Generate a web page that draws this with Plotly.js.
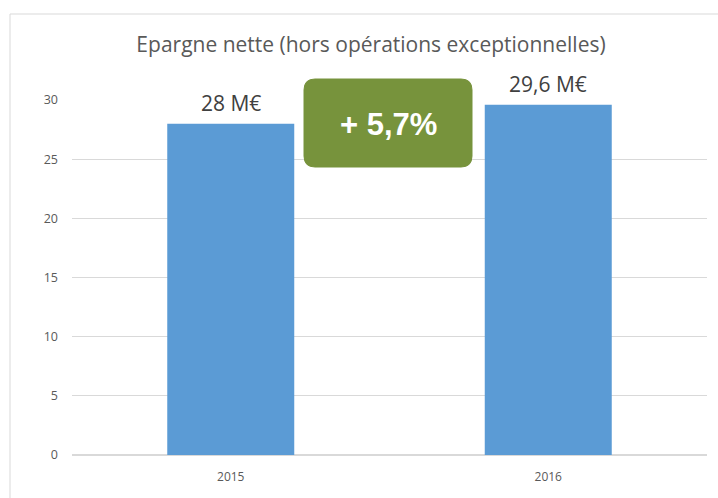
<!DOCTYPE html>
<html>
<head>
<meta charset="utf-8">
<script src="https://cdn.plot.ly/plotly-3.0.1.min.js"></script>
<style>
html,body{margin:0;padding:0;background:#fff;}
#chart{width:718px;height:498px;}
</style>
</head>
<body>
<div id="chart"></div>
<script>
// Data
var years = ['2015', '2016'];
var values = [28, 29.6];
var yTicks = [0, 5, 10, 15, 20, 25, 30];
var chartTitle = 'Epargne nette (hors opérations exceptionnelles)';
var unit = ' M€';

function fmt(v) { return String(v).replace('.', ',') + unit; }
var growth = (values[1] / values[0] - 1) * 100;
var growthLabel = '+ ' + growth.toFixed(1).replace('.', ',') + '%';

var PL = 72, PR = 707, PT = 100, PB = 455;
var W = PR - PL, H = PB - PT;
function px(x) { return (x - PL) / W; }
function py(y) { return (PB - y) / H; }

// rounded rectangle in paper coords from pixel box
function roundRect(x0, y0, x1, y1, r) {
  var rx = r / W, ry = r / H;
  var a = px(x0), b = px(x1), top = py(y0), bot = py(y1);
  return 'M' + (a + rx) + ',' + top +
    ' L' + (b - rx) + ',' + top +
    ' Q' + b + ',' + top + ' ' + b + ',' + (top - ry) +
    ' L' + b + ',' + (bot + ry) +
    ' Q' + b + ',' + bot + ' ' + (b - rx) + ',' + bot +
    ' L' + (a + rx) + ',' + bot +
    ' Q' + a + ',' + bot + ' ' + a + ',' + (bot + ry) +
    ' L' + a + ',' + (top - ry) +
    ' Q' + a + ',' + top + ' ' + (a + rx) + ',' + top + ' Z';
}

var trace = {
  type: 'bar',
  x: years,
  y: values,
  marker: { color: '#5B9BD5', line: { width: 0 } },
  hoverinfo: 'none'
};

var annotations = years.map(function (yr, i) {
  return {
    x: i, y: values[i], xref: 'x', yref: 'y',
    text: fmt(values[i]), showarrow: false,
    yanchor: 'bottom', yshift: 5,
    font: { family: 'Open Sans, sans-serif', size: 21, color: '#404040' }
  };
});
annotations.push({
  xref: 'paper', yref: 'paper',
  x: px(388), y: py(124),
  xanchor: 'center', yanchor: 'middle',
  text: '<b>' + growthLabel + '</b>', showarrow: false,
  font: { family: 'Liberation Sans, Arial, sans-serif', size: 31, color: '#FFFFFF' }
});

var layout = {
  width: 718, height: 498,
  margin: { l: PL, r: 718 - PR, t: PT, b: 498 - PB, pad: 0 },
  paper_bgcolor: '#FFFFFF',
  plot_bgcolor: '#FFFFFF',
  showlegend: false,
  bargap: 0.6,
  title: {
    text: chartTitle,
    x: 371 / 718, xanchor: 'center',
    y: 1 - 45 / 498, yanchor: 'middle',
    font: { family: 'Open Sans, sans-serif', size: 21, color: '#595959' }
  },
  xaxis: {
    type: 'category',
    range: [-0.5, 1.5],
    showgrid: false, zeroline: false, showline: false,
    ticks: '', ticklabelstandoff: 13,
    tickfont: { family: 'Open Sans, sans-serif', size: 12, color: '#595959' },
    fixedrange: true
  },
  yaxis: {
    range: [0, 30],
    tickvals: yTicks,
    ticktext: yTicks.map(String),
    showgrid: true, gridcolor: '#D9D9D9', gridwidth: 1,
    zeroline: true, zerolinecolor: '#D9D9D9', zerolinewidth: 1.5,
    showline: false, ticks: '', ticklabelstandoff: 13,
    tickfont: { family: 'Open Sans, sans-serif', size: 12.5, color: '#595959' },
    fixedrange: true
  },
  shapes: [
    { type: 'line', xref: 'paper', yref: 'paper', x0: px(10), x1: px(730), y0: py(14), y1: py(14),
      line: { color: '#D9D9D9', width: 1 } },
    { type: 'line', xref: 'paper', yref: 'paper', x0: px(10), x1: px(10), y0: py(14), y1: py(510),
      line: { color: '#D9D9D9', width: 1 } },
    { type: 'path', xref: 'paper', yref: 'paper', path: roundRect(304, 79, 472, 167, 11),
      fillcolor: '#77933C', line: { color: '#77933C', width: 1 }, layer: 'above' }
  ],
  annotations: annotations
};

Plotly.newPlot('chart', [trace], layout, { displayModeBar: false, staticPlot: true });
</script>
</body>
</html>
